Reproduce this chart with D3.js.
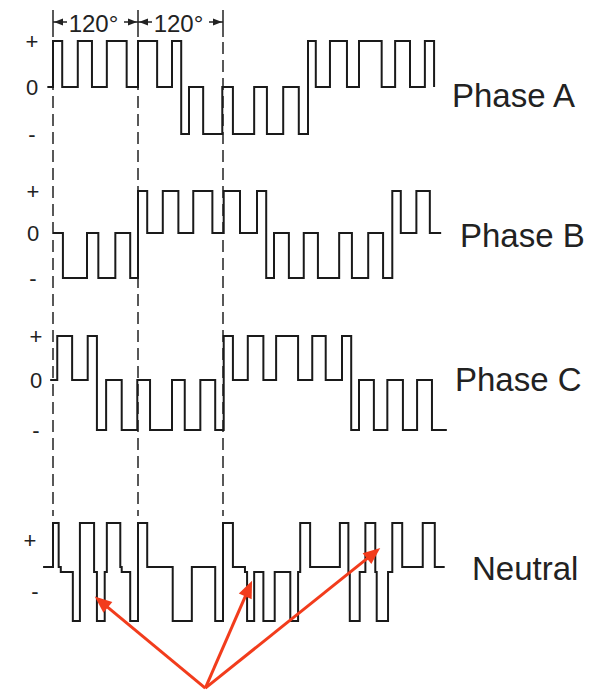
<!DOCTYPE html>
<html>
<head>
<meta charset="utf-8">
<script src="https://cdn.jsdelivr.net/npm/d3@7"></script>
<style>
  body { margin: 0; background: #fff; }
  svg { display: block; font-family: "Liberation Sans", Arial, sans-serif; }
</style>
</head>
<body>
<script>
//size of the picture
const width = 595;
const height = 691;

//switching instants in degrees (0 = first dashed line) and the level held after each one
const phaseATimes = [-8, 0, 13, 35, 55, 76, 104, 120, 147, 168, 181, 192, 212, 239, 254, 284, 302, 325, 347, 360, 371, 391, 415, 432, 464, 483, 504, 525, 538];
const phaseALevels = [0, 1, 0, 1, 0, 1, 0, 1, 0, 1, -1, 0, -1, 0, -1, 0, -1, 0, -1, 1, 0, 1, 0, 1, 0, 1, 0, 1, 0];

const phaseBTimes = [0, 14, 48, 64, 88, 109, 120, 133, 155, 177, 198, 225, 241, 264, 288, 301, 312, 333, 354, 374, 404, 422, 445, 466, 479, 491, 513, 532, 548];
const phaseBLevels = [0, -1, 0, -1, 0, -1, 1, 0, 1, 0, 1, 0, 1, 0, 1, -1, 0, -1, 0, -1, 0, -1, 0, -1, 1, 0, 1, 0, 0];

const phaseCTimes = [-4, 6, 27, 49, 62, 75, 97, 119, 137, 168, 186, 208, 229, 241, 254, 275, 297, 315, 346, 366, 385, 408, 421, 432, 453, 472, 494, 514, 535, 556];
const phaseCLevels = [0, 1, 0, 1, -1, 0, -1, 0, -1, 0, -1, 0, -1, 1, 0, 1, 0, 1, 0, 1, 0, 1, -1, 0, -1, 0, -1, 0, -1, -1];

const neutralTimes = [-14, 0, 8, 11, 28, 38, 58, 62, 73, 76, 95, 97, 109, 120, 133, 169, 196, 229, 240, 254, 271, 274, 284, 297, 313, 335, 346, 349, 363, 405, 417, 419, 433, 441, 455, 457, 473, 479, 493, 522, 539, 553];
const neutralLevels = [0.1, 1, 0.1, 0, -1, 1, 0, -1, 0, 1, 0.1, 0, -1, 1, 0.1, -1, 0.1, -1, 1, 0.1, 0, -1, 0, -1, 0, -1, 0, 1, 0.1, 1, 0, -1, 0, 1, 0, -1, 0, 1, 0.1, 1, 0.1, 0.1];

const phaseNames = ["Phase A", "Phase B", "Phase C", "Neutral"];
const levelTicks = ["+", "0", "-"];
const levelTickValues = [1, 0, -1];
const neutralTicks = ["+", "-"];
const neutralTickValues = [0.65, -0.4];

const angleMarks = [0, 120, 240];
const angleLabels = ["120°", "120°"];

//red call-outs: common foot and the three tips (degrees, neutral level)
const arrowFrom = [215, -2.37];
const arrowTips = [[59, -0.5], [281, -0.18], [462, 0.49]];

var svg = d3.select("body").append("svg")
  .attr("width", width)
  .attr("height", height);

//one time axis for every trace
var x = d3.scaleLinear().domain([0, 240]).range([53, 223]);

var rows = [
  { name: phaseNames[0], times: phaseATimes, levels: phaseALevels,
    y: d3.scaleLinear().domain([-1, 0, 1]).range([134, 87, 41]), labelX: 452, labelY: 107, tickX: 32 },
  { name: phaseNames[1], times: phaseBTimes, levels: phaseBLevels,
    y: d3.scaleLinear().domain([-1, 0, 1]).range([278, 233, 191]), labelX: 460, labelY: 247, tickX: 33 },
  { name: phaseNames[2], times: phaseCTimes, levels: phaseCLevels,
    y: d3.scaleLinear().domain([-1, 0, 1]).range([430, 380, 336]), labelX: 455, labelY: 391, tickX: 36 },
  { name: phaseNames[3], times: neutralTimes, levels: neutralLevels,
    y: d3.scaleLinear().domain([-1, 1]).range([621, 523]), labelX: 472, labelY: 580, tickX: 32 }
];

//dashed guide lines with a solid stub at the top
svg.selectAll(".stub")
  .data(angleMarks)
  .enter().append("line")
  .attr("x1", d => x(d)).attr("x2", d => x(d))
  .attr("y1", 10).attr("y2", 37)
  .style("stroke", "#222").style("stroke-width", 1.5);

svg.selectAll(".guide")
  .data(angleMarks)
  .enter().append("line")
  .attr("x1", d => x(d)).attr("x2", d => x(d))
  .attr("y1", 42).attr("y2", 516)
  .style("stroke", "#222").style("stroke-width", 1.5)
  .style("stroke-dasharray", "12,6");

//120 degree dimension marks
function arrowHead(px, py, dir, len, half) {
  // dir: +1 points right, -1 points left
  return "M" + px + "," + py + "L" + (px - dir * len) + "," + (py - half) +
    "L" + (px - dir * len) + "," + (py + half) + "Z";
}

angleLabels.forEach(function (label, i) {
  var a = x(angleMarks[i]);
  var b = x(angleMarks[i + 1]);
  var yy = 22;
  svg.append("line").attr("x1", a).attr("x2", a + 14).attr("y1", yy).attr("y2", yy)
    .style("stroke", "#222").style("stroke-width", 1.5);
  svg.append("line").attr("x1", b - 14).attr("x2", b).attr("y1", yy).attr("y2", yy)
    .style("stroke", "#222").style("stroke-width", 1.5);
  svg.append("path").attr("d", arrowHead(a + 1, yy, -1, 9, 3.5)).style("fill", "#222");
  svg.append("path").attr("d", arrowHead(b - 1, yy, 1, 9, 3.5)).style("fill", "#222");
  svg.append("text")
    .attr("x", (a + b) / 2 - 2)
    .attr("y", 32)
    .attr("text-anchor", "middle")
    .style("font-size", "24px")
    .style("fill", "#222")
    .text(label);
});

//the stepped traces
rows.forEach(function (row) {
  var pts = row.times.map((t, i) => [t, row.levels[i]]);
  var line = d3.line()
    .x(d => x(d[0]))
    .y(d => row.y(d[1]))
    .curve(d3.curveStepAfter);

  svg.append("path")
    .attr("d", line(pts))
    .style("fill", "none")
    .style("stroke", "#1a1a1a")
    .style("stroke-width", 2)
    .style("stroke-linejoin", "miter");

  svg.append("text")
    .attr("x", row.labelX)
    .attr("y", row.labelY)
    .style("font-size", "33px")
    .style("fill", "#222")
    .text(row.name);
});

//+ 0 - marks for the three phases
rows.slice(0, 3).forEach(function (row) {
  svg.selectAll(null)
    .data(levelTicks)
    .enter().append("text")
    .attr("x", row.tickX)
    .attr("y", (d, i) => row.y(levelTickValues[i]))
    .attr("text-anchor", "middle")
    .attr("dominant-baseline", "central")
    .style("font-size", "22px")
    .style("fill", "#222")
    .text(d => d);
});

//+ - marks for the neutral
svg.selectAll(".ntick")
  .data(neutralTicks)
  .enter().append("text")
  .attr("x", (d, i) => i == 0 ? 30 : 35)
  .attr("y", (d, i) => rows[3].y(neutralTickValues[i]))
  .attr("text-anchor", "middle")
  .attr("dominant-baseline", "central")
  .style("font-size", "22px")
  .style("fill", "#222")
  .text(d => d);

//red arrows pointing at the neutral steps
var ny = rows[3].y;
var red = "#f23c1c";
arrowTips.forEach(function (tip) {
  var x0 = x(arrowFrom[0]), y0 = ny(arrowFrom[1]);
  var x1 = x(tip[0]), y1 = ny(tip[1]);
  var ang = Math.atan2(y1 - y0, x1 - x0);
  var len = 17, half = 7;
  var bx = x1 - len * Math.cos(ang), by = y1 - len * Math.sin(ang);

  svg.append("line")
    .attr("x1", x0).attr("y1", y0)
    .attr("x2", bx + 2 * Math.cos(ang)).attr("y2", by + 2 * Math.sin(ang))
    .style("stroke", red).style("stroke-width", 3);

  var p1 = [bx + half * Math.sin(ang), by - half * Math.cos(ang)];
  var p2 = [bx - half * Math.sin(ang), by + half * Math.cos(ang)];
  svg.append("path")
    .attr("d", "M" + x1 + "," + y1 + "L" + p1 + "L" + p2 + "Z")
    .style("fill", red);
});
</script>
</body>
</html>
